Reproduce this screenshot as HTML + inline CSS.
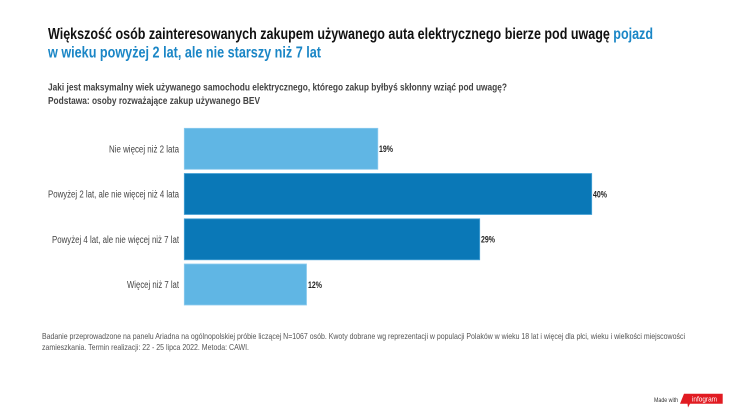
<!DOCTYPE html>
<html><head><meta charset="utf-8"><style>
html,body{margin:0;padding:0;background:#fff;width:737px;height:414px;overflow:hidden}
svg{display:block}
text{font-family:"Liberation Sans",Arial,sans-serif}
</style></head><body>
<svg width="737" height="414" viewBox="0 0 737 414" xmlns="http://www.w3.org/2000/svg">
<rect width="737" height="414" fill="#fff"/>
<text x="48" y="39" font-size="15.5" font-weight="bold" fill="#111" textLength="605" lengthAdjust="spacingAndGlyphs">Większość osób zainteresowanych zakupem używanego auta elektrycznego bierze pod uwagę <tspan fill="#1a86c6">pojazd</tspan></text>
<text x="48" y="57.5" font-size="15.5" font-weight="bold" fill="#1a86c6" textLength="273" lengthAdjust="spacingAndGlyphs">w wieku powyżej 2 lat, ale nie starszy niż 7 lat</text>
<text x="48" y="90.5" font-size="10" font-weight="bold" fill="#444" textLength="459" lengthAdjust="spacingAndGlyphs">Jaki jest maksymalny wiek używanego samochodu elektrycznego, którego zakup byłbyś skłonny wziąć pod uwagę?</text>
<text x="48" y="104" font-size="10" font-weight="bold" fill="#444" textLength="212" lengthAdjust="spacingAndGlyphs">Podstawa: osoby rozważające zakup używanego BEV</text>

<g>
<rect x="184.3" y="128.3" width="193.5" height="41" fill="#60b6e4" stroke="#8ccbee" stroke-width="0.8"/>
<rect x="184.3" y="173.5" width="407.4" height="41" fill="#0a78b7" stroke="#4aa3d6" stroke-width="0.8"/>
<rect x="184.3" y="218.8" width="295.4" height="41" fill="#0a78b7" stroke="#4aa3d6" stroke-width="0.8"/>
<rect x="184.3" y="264" width="122.2" height="41" fill="#60b6e4" stroke="#8ccbee" stroke-width="0.8"/>
</g>
<g font-size="10" fill="#444">
<text x="109" y="152.3" textLength="70" lengthAdjust="spacingAndGlyphs">Nie więcej niż 2 lata</text>
<text x="48" y="197.6" textLength="131" lengthAdjust="spacingAndGlyphs">Powyżej 2 lat, ale nie więcej niż 4 lata</text>
<text x="52" y="242.8" textLength="127" lengthAdjust="spacingAndGlyphs">Powyżej 4 lat, ale nie więcej niż 7 lat</text>
<text x="127" y="288.1" textLength="52" lengthAdjust="spacingAndGlyphs">Więcej niż 7 lat</text>
</g>
<g font-size="9" font-weight="bold" fill="#222">
<text x="379" y="152" textLength="14" lengthAdjust="spacingAndGlyphs">19%</text>
<text x="593" y="197.3" textLength="14" lengthAdjust="spacingAndGlyphs">40%</text>
<text x="481" y="242.5" textLength="14" lengthAdjust="spacingAndGlyphs">29%</text>
<text x="308" y="287.8" textLength="14" lengthAdjust="spacingAndGlyphs">12%</text>
</g>

<text x="42" y="339" font-size="8.5" fill="#555" textLength="643" lengthAdjust="spacingAndGlyphs">Badanie przeprowadzone na panelu Ariadna na ogólnopolskiej próbie liczącej N=1067 osób. Kwoty dobrane wg reprezentacji w populacji Polaków w wieku 18 lat i więcej dla płci, wieku i wielkości miejscowości</text>
<text x="42" y="350" font-size="8.5" fill="#555" textLength="207" lengthAdjust="spacingAndGlyphs">zamieszkania. Termin realizacji:  22 - 25 lipca 2022. Metoda: CAWI.</text>

<text x="654" y="402" font-size="6.5" fill="#333" textLength="24" lengthAdjust="spacingAndGlyphs">Made with</text>
<polygon points="684,393.7 722.7,393.7 722.7,403.7 690,403.7 688,407.5 687.5,403.7 680,403.7" fill="#e11b22"/>
<text x="692" y="401.5" font-size="7.5" fill="#fff" textLength="25" lengthAdjust="spacingAndGlyphs">infogram</text>
</svg>
</body></html>
